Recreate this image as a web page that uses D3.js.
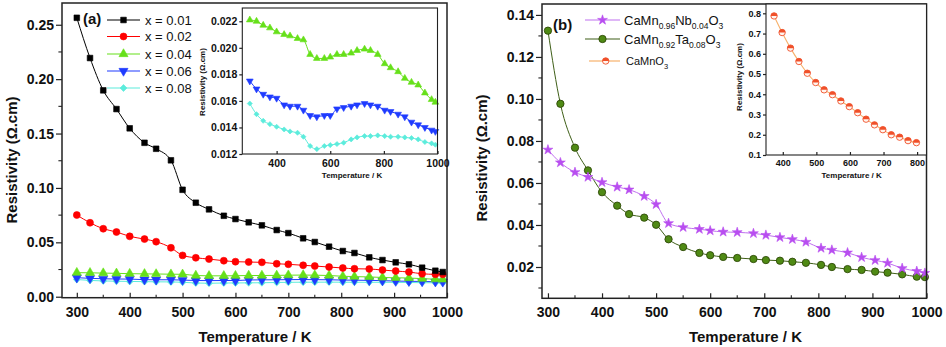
<!DOCTYPE html>
<html><head><meta charset="utf-8">
<script src="https://cdn.jsdelivr.net/npm/d3@7"></script>
<style>
body{margin:0;background:#fff;}
svg{display:block;font-family:"Liberation Sans",Arial,sans-serif;}
</style></head>
<body><svg id="c" width="946" height="347"></svg>
<script>
// ---------- DATA ----------
const tempA = [300,325,350,375,400,428,450,478,500,525,550,578,600,625,650,678,700,728,750,777,803,825,853,878,903,928,953,978,992];
const rhoX001 = [0.2564,0.2194,0.1897,0.1725,0.1548,0.1415,0.136,0.1254,0.0983,0.0864,0.0803,0.0744,0.0714,0.0684,0.0656,0.0613,0.0585,0.0537,0.0503,0.046,0.042,0.0402,0.0362,0.0337,0.0316,0.0298,0.0267,0.0239,0.0227];
const rhoX002 = [0.0751,0.068,0.0625,0.0595,0.0555,0.053,0.0506,0.045,0.038,0.0358,0.0346,0.0331,0.0322,0.0319,0.0316,0.0303,0.0298,0.0289,0.0282,0.0273,0.0264,0.0257,0.0255,0.0245,0.0236,0.0227,0.0211,0.0206,0.0206];
const rhoX004 = [0.0221,0.0220,0.0217,0.0215,0.0212,0.0210,0.0209,0.0207,0.0206,0.0195,0.0192,0.0192,0.0193,0.0195,0.0195,0.0196,0.0198,0.0199,0.0198,0.0195,0.0188,0.0185,0.0182,0.0177,0.0174,0.0172,0.0166,0.0161,0.0159];
const rhoX006 = [0.0175,0.0169,0.0165,0.0163,0.0162,0.0157,0.0156,0.0156,0.0153,0.0149,0.0148,0.0149,0.0149,0.0154,0.0155,0.0156,0.0157,0.0158,0.0157,0.0156,0.0153,0.0152,0.0150,0.0148,0.0144,0.0142,0.0140,0.0138,0.0137];
const rhoX008 = [0.0158,0.0150,0.0145,0.01425,0.01405,0.01385,0.0137,0.0136,0.0133,0.0126,0.01237,0.0126,0.01267,0.01275,0.01285,0.0131,0.01325,0.01335,0.01335,0.0134,0.01335,0.0133,0.0133,0.01325,0.0132,0.0131,0.0129,0.0128,0.0127];
const seriesNamesA = ["x = 0.01","x = 0.02","x = 0.04","x = 0.06","x = 0.08"];

const tempB = [300,323,350,374,400,428,450,478,500,523,550,580,600,624,650,680,703,729,752,777,805,825,854,880,905,928,955,982,997];
const rhoNb = [0.0758,0.0697,0.0651,0.0628,0.0603,0.0581,0.0568,0.0537,0.0498,0.0408,0.0389,0.038,0.0373,0.0367,0.0365,0.036,0.0352,0.0341,0.0332,0.0319,0.029,0.0281,0.0268,0.0246,0.0232,0.0219,0.0194,0.018,0.0171];
const rhoTa = [0.1325,0.0977,0.0768,0.066,0.0556,0.0492,0.0452,0.0435,0.0401,0.0332,0.0295,0.0267,0.0256,0.0248,0.0243,0.0238,0.0233,0.023,0.0225,0.022,0.021,0.02,0.019,0.0186,0.0178,0.0173,0.0165,0.0154,0.0152];
const tempCaMnO3 = [374,398,423,448,473,498,523,548,573,598,623,648,673,698,723,748,773,798];
const rhoCaMnO3 = [0.787,0.705,0.628,0.562,0.504,0.458,0.422,0.398,0.367,0.339,0.309,0.277,0.249,0.225,0.200,0.188,0.171,0.161];

const ticksAX = [300,400,500,600,700,800,900,1000];
const ticksAY = [0.00,0.05,0.10,0.15,0.20,0.25];
const ticksInsetAX = [400,600,800,1000];
const ticksInsetAY = [0.012,0.014,0.016,0.018,0.020,0.022];
const ticksBX = [300,400,500,600,700,800,900,1000];
const ticksBY = [0.02,0.04,0.06,0.08,0.10,0.12,0.14];
const ticksInsetBX = [400,500,600,700,800];
const ticksInsetBY = [0.1,0.2,0.3,0.4,0.5,0.6,0.7,0.8];

// ---------- DRAW ----------
const svg = d3.select("#c");
const FONT = '"Liberation Sans",Arial,sans-serif';

function frameAxes(g, x, y, o) {
  const [x0,x1] = x.range(), [y0,y1] = y.range();
  const xa = g.append("g").attr("transform",`translate(0,${y0})`)
    .call(d3.axisBottom(x).tickValues(o.xt).tickSize(-o.xtl).tickPadding(o.xpad).tickFormat(o.xf||d3.format("d")));
  xa.select(".domain").remove();
  xa.selectAll("line").attr("stroke","#222").attr("stroke-width",1.2);
  xa.selectAll("text").attr("font-size",o.fs).attr("font-weight","bold").attr("fill","#111").attr("font-family",FONT);
  const ya = g.append("g").attr("transform",`translate(${x0},0)`)
    .call(d3.axisLeft(y).tickValues(o.yt).tickSize(o.ytl).tickPadding(o.ypad).tickFormat(o.yf));
  ya.select(".domain").remove();
  ya.selectAll("line").attr("stroke","#222").attr("stroke-width",1.2);
  ya.selectAll("text").attr("font-size",o.yfs||o.fs).attr("font-weight","bold").attr("fill","#111").attr("font-family",FONT);
  if (o.xminor) {
    g.append("g").selectAll("line").data(o.xminor).join("line")
      .attr("x1",d=>x(d)).attr("x2",d=>x(d)).attr("y1",y0).attr("y2",y0-o.xtl*0.6)
      .attr("stroke","#222").attr("stroke-width",1.1);
  }
  if (o.yminor) {
    g.append("g").selectAll("line").data(o.yminor).join("line")
      .attr("x1",x0).attr("x2",x0-o.ytl*0.6).attr("y1",d=>y(d)).attr("y2",d=>y(d))
      .attr("stroke","#222").attr("stroke-width",1.1);
  }
  g.append("rect").attr("x",x0).attr("y",y1).attr("width",x1-x0).attr("height",y0-y1)
    .attr("fill","none").attr("stroke","#222").attr("stroke-width",o.fw||1.5);
}

function symPath(type, size) { return d3.symbol().type(type).size(size)(); }

function drawSeries(g, x, y, xs, ys, o) {
  const pts = xs.map((t,i)=>[t, ys[i]]);
  g.append("path").datum(pts)
    .attr("d", d3.line().x(d=>x(d[0])).y(d=>y(d[1])).curve(d3.curveMonotoneX))
    .attr("fill","none").attr("stroke",o.line||o.color).attr("stroke-width",o.lw||1);
  const mk = g.append("g");
  pts.forEach(d => drawMarker(mk, x(d[0]), y(d[1]), o));
}

function drawMarker(g, cx, cy, o) {
  if (o.half) {
    const r = o.r;
    g.append("circle").attr("cx",cx).attr("cy",cy).attr("r",r).attr("fill","#fff5ee").attr("stroke",o.color).attr("stroke-width",0.9);
    g.append("path").attr("d",`M${cx-r},${cy} A${r},${r} 0 0 1 ${cx+r},${cy} Z`).attr("fill",o.color);
    return;
  }
  g.append("path").attr("d", symPath(o.sym, o.size))
    .attr("transform",`translate(${cx},${cy}) rotate(${o.rot||0})`)
    .attr("fill",o.color).attr("stroke",o.stroke||o.color).attr("stroke-width",o.sw||0.6);
}

// ===== Panel (a) =====
const xA = d3.scaleLinear().domain([272,1000]).range([62,447]);
const yA = d3.scaleLinear().domain([-0.0009,0.27]).range([297.7,3]);
const gA = svg.append("g");
const styleA = [
  {color:"#000000", sym:d3.symbolSquare, size:32},
  {color:"#ff0000", sym:d3.symbolCircle, size:38},
  {color:"#66e01a", sym:d3.symbolTriangle, size:36},
  {color:"#1f3bff", sym:d3.symbolTriangle, size:36, rot:180},
  {color:"#5cecdc", sym:d3.symbolSquare, size:24, rot:45},
];
const dataA = [rhoX001, rhoX002, rhoX004, rhoX006, rhoX008];
[4,3,2,1,0].forEach(i => drawSeries(gA, xA, yA, tempA, dataA[i], styleA[i]));
frameAxes(gA, xA, yA, {xt:ticksAX, yt:ticksAY, xtl:5, ytl:6, xpad:9, ypad:2, fs:14,
  yf:d3.format(".2f"), xminor:d3.range(350,1000,100), yminor:d3.range(0.025,0.27,0.05)});

gA.append("text").attr("x",83).attr("y",23.5).attr("font-size",15).attr("font-weight","bold").attr("fill","#111").text("(a)");
const legYA = [20,36.5,54,71,88];
seriesNamesA.forEach((n,i)=>{
  const s = styleA[i];
  gA.append("line").attr("x1",107).attr("x2",140).attr("y1",legYA[i]).attr("y2",legYA[i]).attr("stroke",s.color).attr("stroke-width",1.2);
  drawMarker(gA, 123.5, legYA[i], s);
  gA.append("text").attr("x",145).attr("y",legYA[i]+4.8).attr("font-size",13).attr("fill","#111").text(n);
});

gA.append("text").attr("transform","translate(17,160) rotate(-90)").attr("text-anchor","middle")
  .attr("font-size",15).attr("font-weight","bold").attr("fill","#111").text("Resistivity (Ω.cm)");
gA.append("text").attr("x",255).attr("y",341.5).attr("text-anchor","middle")
  .attr("font-size",15).attr("font-weight","bold").attr("fill","#111").text("Temperature / K");

// inset (a)
const xIA = d3.scaleLinear().domain([272,1000]).range([242.3,437.5]);
const yIA = d3.scaleLinear().domain([0.012,0.023]).range([154,8]);
const gIA = svg.append("g");
gIA.append("rect").attr("x",242.3).attr("y",8).attr("width",195.2).attr("height",146).attr("fill","#fff");
const styleIA = [
  {color:"#66e01a", sym:d3.symbolTriangle, size:20},
  {color:"#1f3bff", sym:d3.symbolTriangle, size:20, rot:180},
  {color:"#5cecdc", sym:d3.symbolSquare, size:13, rot:45},
];
[rhoX004, rhoX006, rhoX008].forEach((d,i)=>drawSeries(gIA, xIA, yIA, tempA, d, styleIA[i]));
frameAxes(gIA, xIA, yIA, {xt:ticksInsetAX, yt:ticksInsetAY, xtl:3, ytl:3, xpad:6, ypad:2, fs:10.5,
  yf:d3.format(".3f"), fw:1.1});
gIA.append("text").attr("transform","translate(205,82) rotate(-90)").attr("text-anchor","middle")
  .attr("font-size",8).attr("font-weight","bold").attr("fill","#111").text("Resistivity (Ω.cm)");
gIA.append("text").attr("x",352).attr("y",178).attr("text-anchor","middle")
  .attr("font-size",8).attr("font-weight","bold").attr("fill","#111").text("Temperature / K");

// ===== Panel (b) =====
const xB = d3.scaleLinear().domain([289,1000]).range([542,926.5]);
const yB = d3.scaleLinear().domain([0.0051,0.1452]).range([298.3,4]);
const gB = svg.append("g");
const styleNb = {color:"#b84ef0", line:"#c070f0", sym:d3.symbolStar, size:30};
const styleTa = {color:"#4f8a14", stroke:"#2f4a08", line:"#3f5f18", sym:d3.symbolCircle, size:42, sw:0.9};
const styleCa = {color:"#f0502a", line:"#f7b06a", half:true, r:3.2};
drawSeries(gB, xB, yB, tempB, rhoTa, styleTa);
drawSeries(gB, xB, yB, tempB, rhoNb, styleNb);
frameAxes(gB, xB, yB, {xt:ticksBX, yt:ticksBY, xtl:5, ytl:6, xpad:9, ypad:2, fs:14,
  yf:d3.format(".2f"), xminor:d3.range(350,1000,100), yminor:d3.range(0.01,0.145,0.02)});
gB.append("text").attr("x",553).attr("y",29.5).attr("font-size",15).attr("font-weight","bold").attr("fill","#111").text("(b)");

function legendSub(g, x, y, parts, fs, sfs) {
  const t = g.append("text").attr("x",x).attr("y",y).attr("font-size",fs).attr("fill","#111");
  parts.forEach(p=>{
    if (p[1]) t.append("tspan").attr("font-size",sfs).attr("dy",4).text(p[0]);
    else t.append("tspan").attr("dy",p[2]||0).text(p[0]);
  });
}
const legYB = [20,39,61];
gB.append("line").attr("x1",585).attr("x2",620).attr("y1",legYB[0]).attr("y2",legYB[0]).attr("stroke",styleNb.line).attr("stroke-width",1.2);
drawMarker(gB, 602.5, legYB[0], styleNb);
gB.append("line").attr("x1",585).attr("x2",620).attr("y1",legYB[1]).attr("y2",legYB[1]).attr("stroke",styleTa.line).attr("stroke-width",1.2);
drawMarker(gB, 602.5, legYB[1], styleTa);
gB.append("line").attr("x1",589).attr("x2",620).attr("y1",legYB[2]).attr("y2",legYB[2]).attr("stroke",styleCa.line).attr("stroke-width",1.2);
drawMarker(gB, 605.7, legYB[2], styleCa);
legendSub(gB, 624, legYB[0]+4.5, [["CaMn"],["0.96",1],["Nb",0,-4],["0.04",1],["O",0,-4],["3",1]], 13, 8.5);
legendSub(gB, 624, legYB[1]+4.5, [["CaMn"],["0.92",1],["Ta",0,-4],["0.08",1],["O",0,-4],["3",1]], 13, 8.5);
legendSub(gB, 626, legYB[2]+3.5, [["CaMnO"],["3",1]], 11, 7.5);

gB.append("text").attr("transform","translate(487,158) rotate(-90)").attr("text-anchor","middle")
  .attr("font-size",15).attr("font-weight","bold").attr("fill","#111").text("Resistivity (Ω.cm)");
gB.append("text").attr("x",745.5).attr("y",341.5).attr("text-anchor","middle")
  .attr("font-size",15).attr("font-weight","bold").attr("fill","#111").text("Temperature / K");

// inset (b)
const xIB = d3.scaleLinear().domain([350,828]).range([766,926.5]);
const yIB = d3.scaleLinear().domain([0.1,0.846]).range([155,4]);
const gIB = svg.append("g");
gIB.append("rect").attr("x",766).attr("y",4).attr("width",160.5).attr("height",151).attr("fill","#fff");
drawSeries(gIB, xIB, yIB, tempCaMnO3, rhoCaMnO3, {color:"#f0502a", line:"#f7b06a", half:true, r:3.2, lw:1.1});
frameAxes(gIB, xIB, yIB, {xt:ticksInsetBX, yt:ticksInsetBY, xtl:3, ytl:3, xpad:5, ypad:2, fs:9,
  yf:d3.format(".1f"), fw:1.1});
gIB.append("text").attr("transform","translate(742,77) rotate(-90)").attr("text-anchor","middle")
  .attr("font-size",8).attr("font-weight","bold").attr("fill","#111").text("Resistivity (Ω.cm)");
gIB.append("text").attr("x",851.7).attr("y",178).attr("text-anchor","middle")
  .attr("font-size",8).attr("font-weight","bold").attr("fill","#111").text("Temperature / K");
</script></body></html>
